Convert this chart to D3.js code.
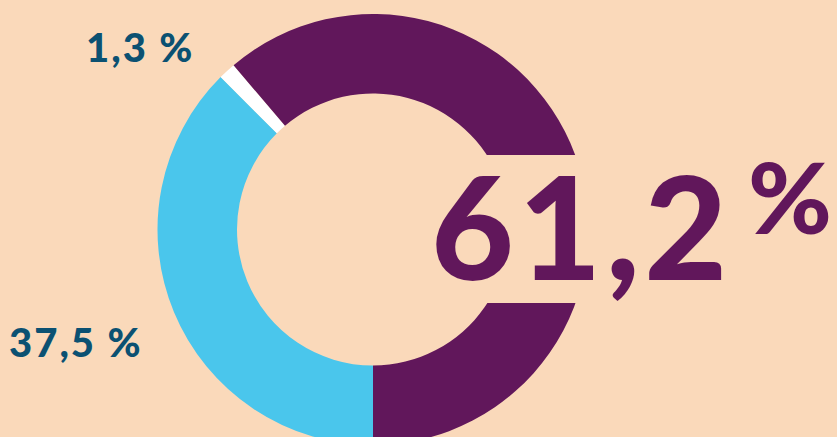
<!DOCTYPE html>
<html>
<head>
<meta charset="utf-8">
<script src="https://cdn.jsdelivr.net/npm/d3@7"></script>
<style>
  html, body { margin: 0; padding: 0; background: #fad9ba; }
  svg { display: block; }
</style>
</head>
<body>
<div id="chart-area"></div>
<script>
// chart data
let categories = ["b", "c", "a"],
	values = [37.5, 1.3, 61.2],
	colors = ["#4ac6ec", "#ffffff", "#61175b"],
	valueLabels = ["37,5 %", "1,3 %", "61,2"];

let width = 837,
	height = 437;

let svg = d3.select("#chart-area").append("svg")
	.attr("width", width)
	.attr("height", height);

svg.append("rect")
	.attr("width", width)
	.attr("height", height)
	.attr("fill", "#fad9ba");

let cx = 373, cy = 229.5;

let pie = d3.pie()
	.sort(null)
	.value(d => d)
	.startAngle(Math.PI)
	.endAngle(3 * Math.PI);

let arc = d3.arc()
	.innerRadius(136)
	.outerRadius(215.5);

let colorScale = d3.scaleOrdinal()
	.domain(categories)
	.range(colors);

let g = svg.append("g")
	.attr("transform", "translate(" + cx + "," + cy + ")");

g.selectAll("path")
	.data(pie(values))
	.enter()
	.append("path")
	.attr("d", arc)
	.attr("fill", (d, i) => colorScale(categories[i]));

// box behind the big number cuts the ring
svg.append("rect")
	.attr("x", 425)
	.attr("y", 155)
	.attr("width", width - 425)
	.attr("height", 148)
	.attr("fill", "#fad9ba");

svg.append("text")
	.attr("x", 431)
	.attr("y", 280)
	.attr("font-family", "Lato")
	.attr("font-weight", 900)
	.attr("font-size", 143)
	.attr("letter-spacing", 4.5)
	.attr("fill", "#61175b")
	.text(valueLabels[2]);

svg.append("text")
	.attr("x", 748)
	.attr("y", 234)
	.attr("font-family", "Lato")
	.attr("font-weight", 900)
	.attr("font-size", 98)
	.attr("textLength", 84)
	.attr("lengthAdjust", "spacingAndGlyphs")
	.attr("fill", "#61175b")
	.text("%");

svg.append("text")
	.attr("x", 86)
	.attr("y", 62)
	.attr("font-family", "Lato")
	.attr("font-weight", 900)
	.attr("font-size", 40)
	.attr("letter-spacing", 2)
	.attr("fill", "#0b5172")
	.text(valueLabels[1]);

svg.append("text")
	.attr("x", 9)
	.attr("y", 357)
	.attr("font-family", "Lato")
	.attr("font-weight", 900)
	.attr("font-size", 40)
	.attr("letter-spacing", 2)
	.attr("fill", "#0b5172")
	.text(valueLabels[0]);
</script>
</body>
</html>
